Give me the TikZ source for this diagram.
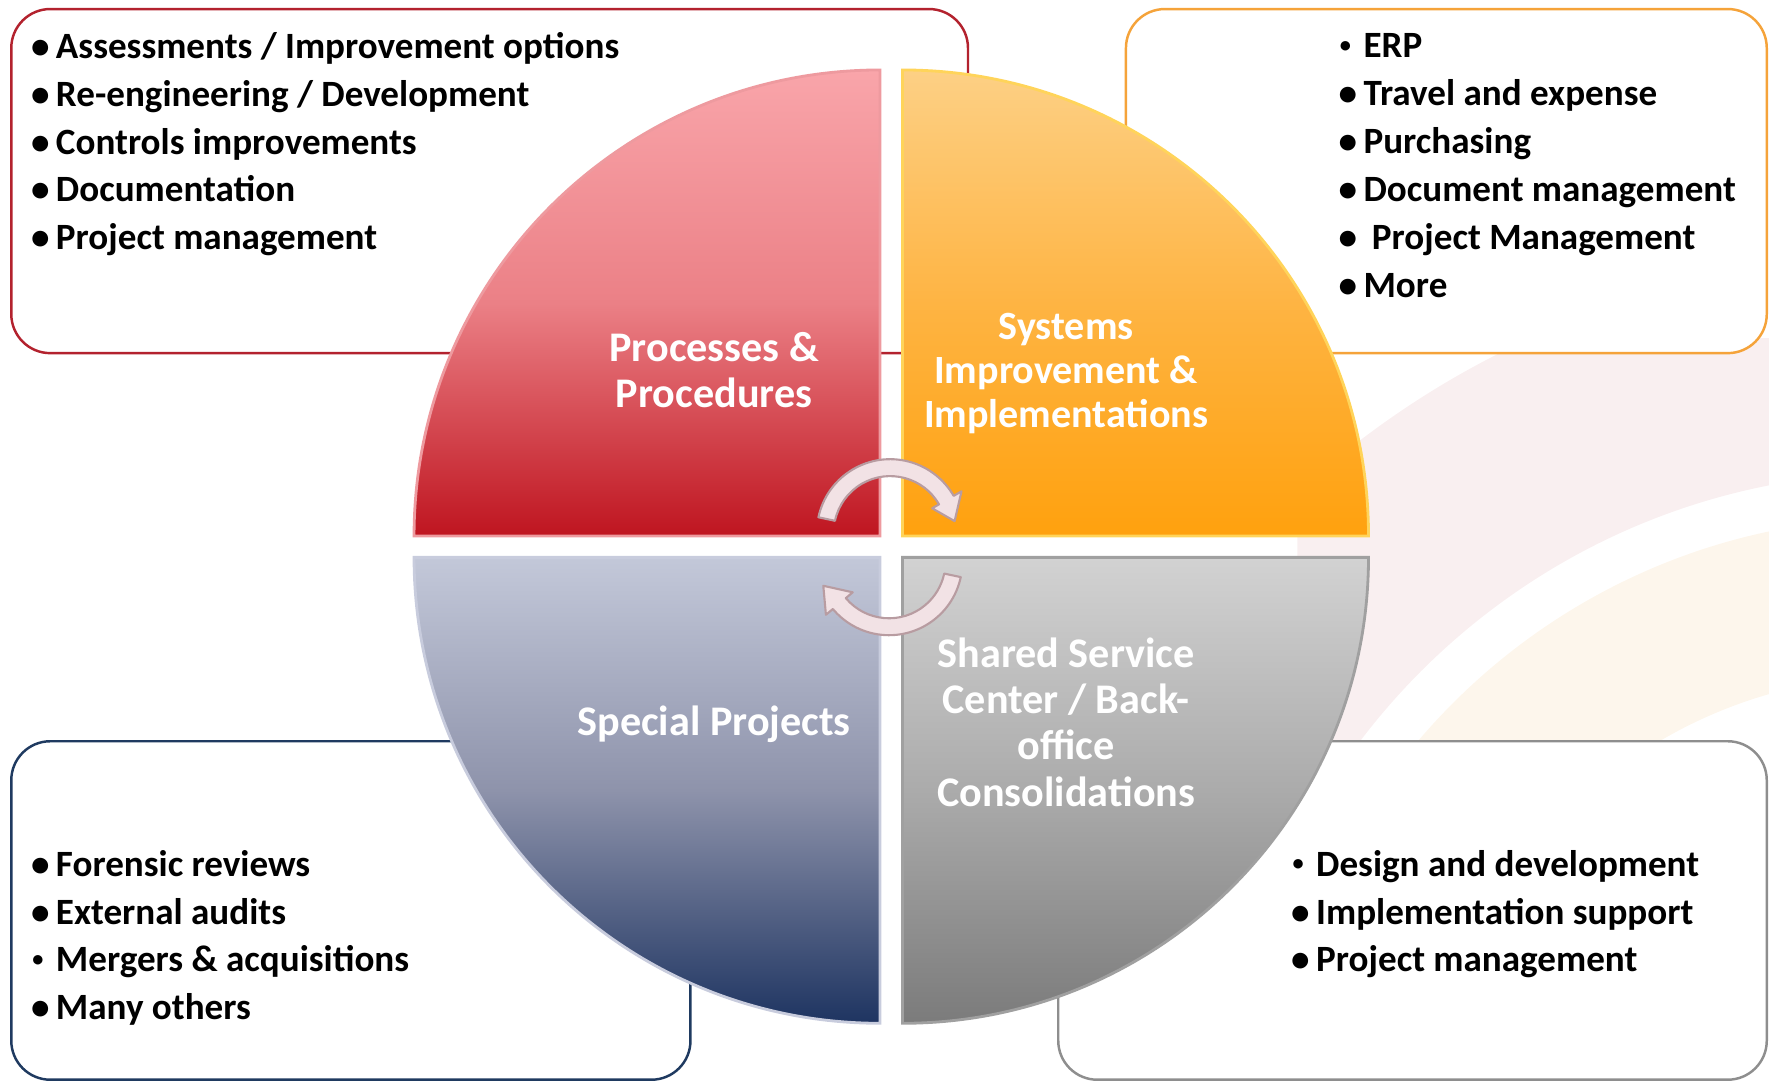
\documentclass[tikz,border=0pt]{standalone}
\usepackage{fontspec}
\setmainfont{Carlito}
\usepackage{graphicx}
\usepackage{xcolor}
\usetikzlibrary{calc, positioning}

\definecolor{redbox}{HTML}{B3222E}
\definecolor{orangebox}{HTML}{F5A33A}
\definecolor{navybox}{HTML}{1F3A60}
\definecolor{graybox}{HTML}{8E8E8E}
\definecolor{redtop}{HTML}{F9A5AA}
\definecolor{redmid}{HTML}{EB8086}
\definecolor{redbot}{HTML}{BF1520}
\definecolor{rededge}{HTML}{EE9A9F}
\definecolor{ortop}{HTML}{FDD085}
\definecolor{ormid}{HTML}{FEB443}
\definecolor{orbot}{HTML}{FFA10E}
\definecolor{oredge}{HTML}{FFD45A}
\definecolor{bltop}{HTML}{C3C8D9}
\definecolor{blmid}{HTML}{8E93AB}
\definecolor{blbot}{HTML}{1E3461}
\definecolor{bledge}{HTML}{C8CCDD}
\definecolor{grtop}{HTML}{D2D2D2}
\definecolor{grmid}{HTML}{ABABAB}
\definecolor{grbot}{HTML}{7B7B7B}
\definecolor{gredge}{HTML}{A0A0A0}
\definecolor{cycfill}{HTML}{F2E2E5}
\definecolor{cycedge}{HTML}{B89CA1}
\definecolor{wmpink}{HTML}{F9EFF0}
\definecolor{wmorange}{HTML}{FDF6EC}

\newcommand{\bul}{\llap{\textbullet\hspace{0.065cm}}}
\newcommand{\sbul}{\llap{\raisebox{0.14em}{\scalebox{0.6}{\textbullet}}\hspace{0.125cm}}}

\begin{document}
\begin{tikzpicture}[x=0.011282cm, y=-0.011282cm,
    box/.style={line width=0.7pt, fill=white, rounded corners=0.39cm},
    itm/.style={anchor=base west, inner sep=0pt, font=\fontsize{10.55}{12.7}\selectfont\bfseries},
    lbl/.style={align=center, inner sep=0pt, text=white, font=\fontsize{12}{13.2}\selectfont\bfseries},
    quad/.style={line width=0.8pt},
    cyc/.style={fill=cycfill, draw=cycedge, line width=0.6pt, line join=round}]

    \useasboundingbox (0,0) rectangle (1568,960);

    % faint logo behind everything
    \begin{scope}
        \clip (1150,300) rectangle (1568,670);
        \fill[wmpink, even odd rule] (1684,1019) circle (790) (1684,1019) circle (600);
        \fill[wmorange, even odd rule] (1684,1019) circle (560) (1684,1019) circle (420);
    \end{scope}

    % text boxes
    \draw[box, draw=redbox] (10,8) rectangle (858,313);
    \draw[box, draw=orangebox] (998,8) rectangle (1566,313);
    \draw[box, draw=navybox] (10,657) rectangle (612,957);
    \draw[box, draw=graybox] (938,657) rectangle (1566,957);

    % quadrants
    \shadedraw[quad, top color=redtop, bottom color=redbot, middle color=redmid, draw=rededge]
    (780,475) -- (367,475) arc[start angle=180, end angle=270, radius=413] -- cycle;
    \shadedraw[quad, top color=ortop, bottom color=orbot, middle color=ormid, draw=oredge]
    (800,475) -- (800,62) arc[start angle=270, end angle=360, radius=413] -- cycle;
    \shadedraw[quad, top color=grtop, bottom color=grbot, middle color=grmid, draw=gredge]
    (800,494) -- (1213,494) arc[start angle=0, end angle=90, radius=413] -- cycle;
    \shadedraw[quad, top color=bltop, bottom color=blbot, middle color=blmid, draw=bledge]
    (780,494) -- (780,907) arc[start angle=90, end angle=180, radius=413] -- cycle;

    % cycle arrows
    \coordinate (ct) at (789,472);
    \coordinate (cb) at (788,498);
    \draw[cyc]
    ($(ct)+(192:65)$) arc[start angle=192, end angle=330, radius=65]
    -- ($(ct)+(330:73)$) -- ($(ct)+(350:58)$) -- ($(ct)+(330:43)$)
    -- ($(ct)+(330:50)$) arc[start angle=330, end angle=192, radius=50] -- cycle;
    \draw[cyc]
    ($(cb)+(12:65)$) arc[start angle=12, end angle=140, radius=65]
    -- ($(cb)+(140:73)$) -- ($(cb)+(160:62)$) -- ($(cb)+(140:42)$)
    -- ($(cb)+(140:50)$) arc[start angle=140, end angle=12, radius=50] -- cycle;

    % quadrant labels
    \node[lbl] (pp) at (633,328) {Processes \&\\Procedures};
    \node[lbl, font=\fontsize{11.4}{12.5}\selectfont\bfseries] (sys) at (945,331) {Systems\\Improvement \&\\Implementations};
    \node[lbl] (sp) at (633,642) {Special Projects};
    \node[lbl] (ssc) at (945,640) {Shared Service\\Center / Back-\\office\\Consolidations};

    % processes list
    \node[itm] (pp1) at (49,51.5) {\bul Assessments / Improvement options};
    \node[itm] (pp2) at (49,94) {\bul Re-engineering / Development};
    \node[itm] (pp3) at (49,136.5) {\bul Controls improvements};
    \node[itm] (pp4) at (49,179) {\bul Documentation};
    \node[itm] (pp5) at (49,221.5) {\bul Project management};

    % systems list
    \node[itm] (sys1) at (1208,51) {\sbul ERP};
    \node[itm] (sys2) at (1208,93.5) {\bul Travel and expense};
    \node[itm] (sys3) at (1208,136) {\bul Purchasing};
    \node[itm] (sys4) at (1208,178.5) {\bul Document management};
    \node[itm] (sys5) at (1208,221) {\bul\ Project Management};
    \node[itm] (sys6) at (1208,263.5) {\bul More};

    % special projects list
    \node[itm] (sp1) at (49,776.5) {\bul Forensic reviews};
    \node[itm] (sp2) at (49,819) {\bul External audits};
    \node[itm] (sp3) at (49,861.5) {\sbul Mergers \& acquisitions};
    \node[itm] (sp4) at (49,904) {\bul Many others};

    % shared service list
    \node[itm] (ssc1) at (1166,776.5) {\sbul Design and development};
    \node[itm] (ssc2) at (1166,819) {\bul Implementation support};
    \node[itm] (ssc3) at (1166,861.5) {\bul Project management};
\end{tikzpicture}
\end{document}
